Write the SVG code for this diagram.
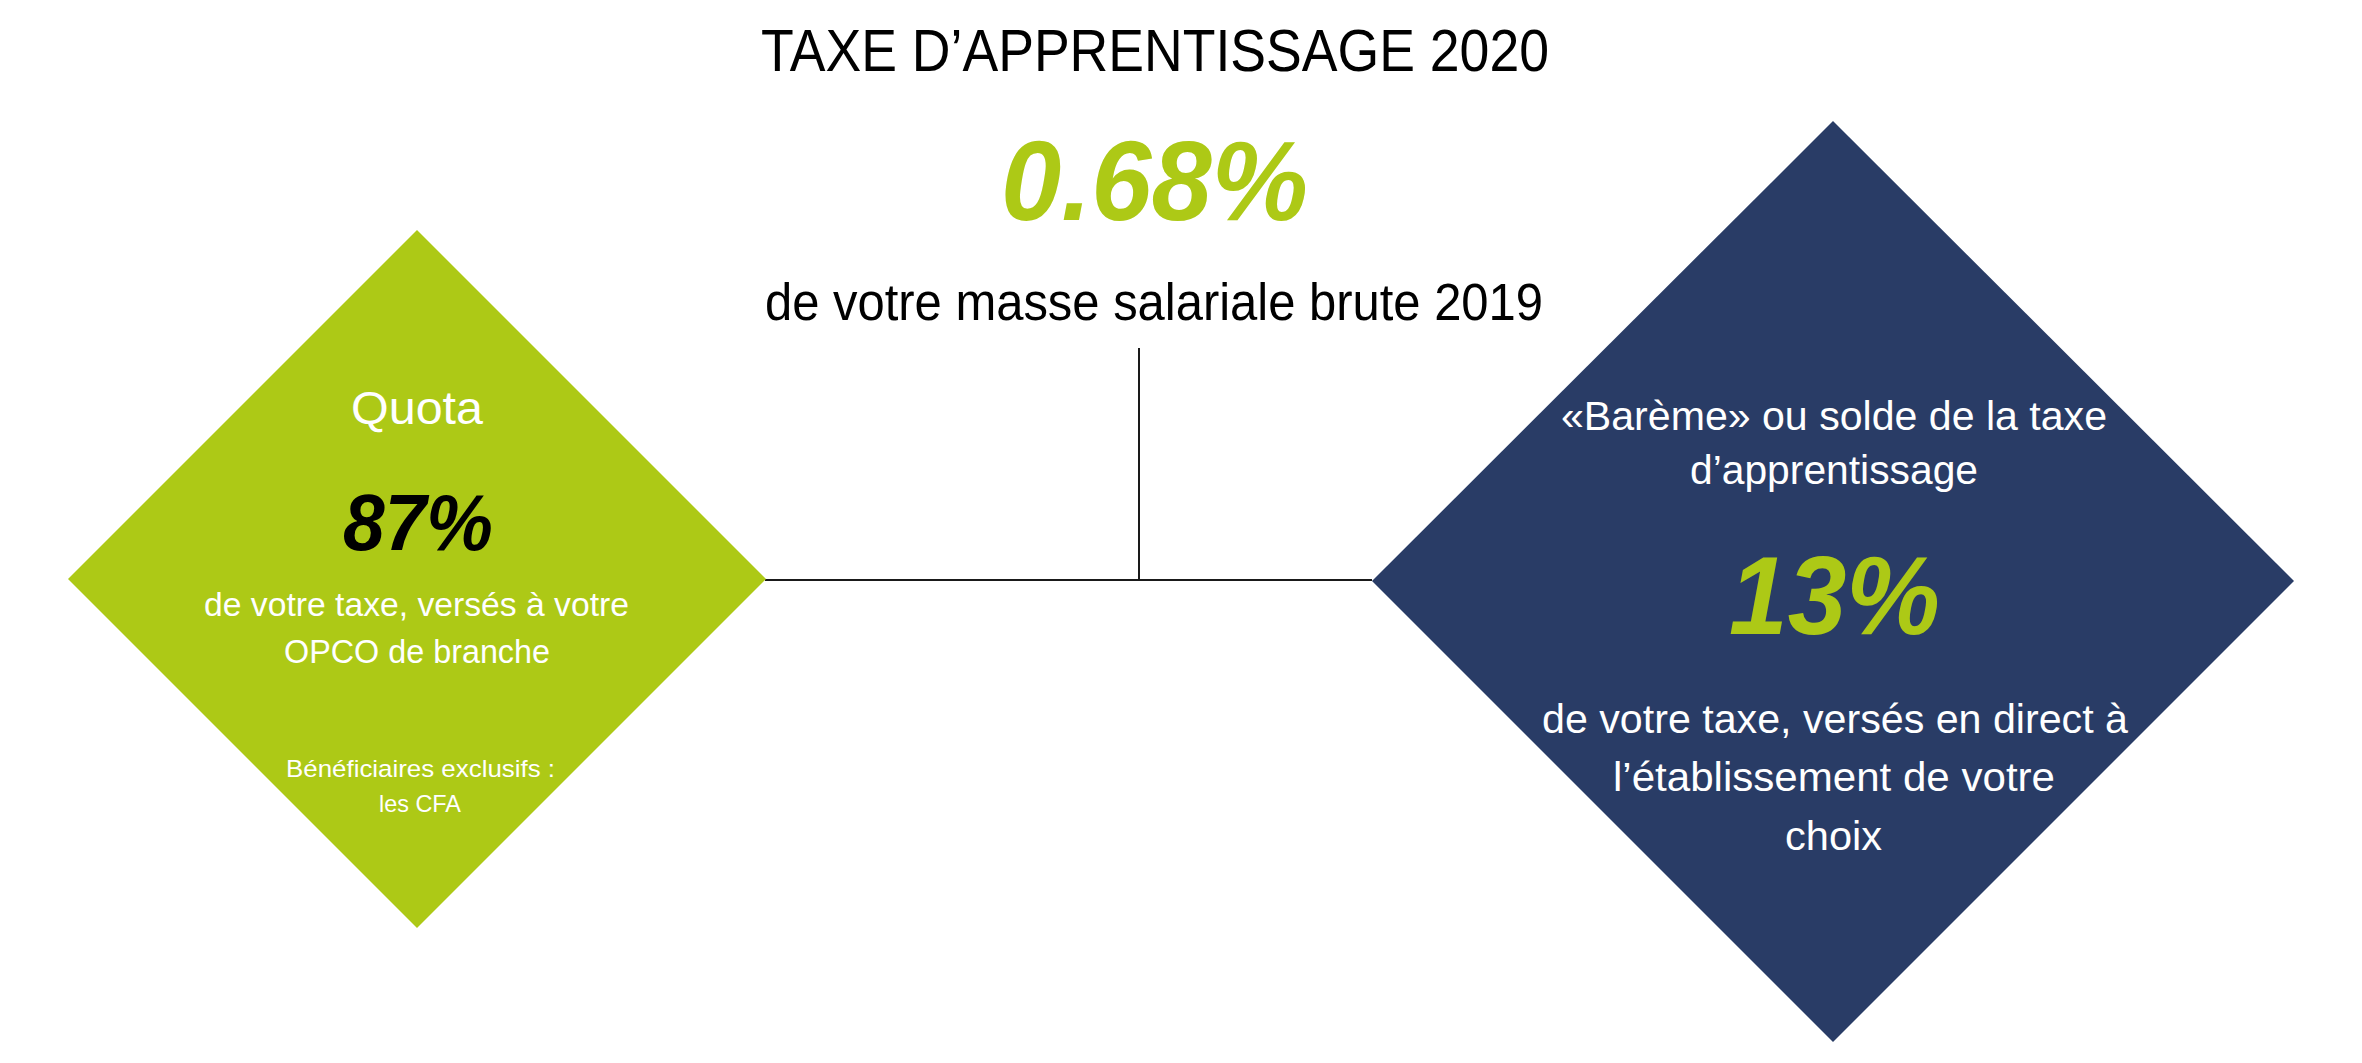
<svg xmlns="http://www.w3.org/2000/svg" width="2362" height="1063" viewBox="0 0 2362 1063">
<style>
text{font-family:"Liberation Sans",Arial,sans-serif;}
.blk{fill:#000000;}
.wht{fill:#ffffff;}
.grn{fill:#ADC916;}
.big{font-weight:bold;font-style:italic;}
.conn{stroke:#1a1a1a;stroke-width:2;fill:none;}
</style>
<rect x="0" y="0" width="2362" height="1063" fill="#ffffff"/>
<g id="connectors">
<line class="conn" x1="1139" y1="348" x2="1139" y2="580"/>
<line class="conn" x1="765" y1="580" x2="1372" y2="580"/>
</g>
<g id="header">
<text class="blk" x="761" y="71" font-size="59" textLength="788" lengthAdjust="spacingAndGlyphs">TAXE D’APPRENTISSAGE 2020</text>
<text class="grn big" x="1001" y="220" font-size="114" textLength="307" lengthAdjust="spacingAndGlyphs">0.68%</text>
<text class="blk" x="765" y="320" font-size="51" textLength="778" lengthAdjust="spacingAndGlyphs">de votre masse salariale brute 2019</text>
</g>
<g id="quota">
<polygon points="417,230 766,579 417,928 68,579" fill="#ADC916"/>
<text class="wht" x="351" y="424" font-size="46" textLength="132" lengthAdjust="spacingAndGlyphs">Quota</text>
<text class="blk big" x="343" y="550" font-size="79" textLength="150" lengthAdjust="spacingAndGlyphs">87%</text>
<text class="wht" x="204" y="616" font-size="34" textLength="425" lengthAdjust="spacingAndGlyphs">de votre taxe, versés à votre</text>
<text class="wht" x="284" y="663" font-size="34" textLength="266" lengthAdjust="spacingAndGlyphs">OPCO de branche</text>
<text class="wht" x="286" y="777" font-size="24.5" textLength="269" lengthAdjust="spacingAndGlyphs">Bénéficiaires exclusifs :</text>
<text class="wht" x="379" y="812" font-size="24.5" textLength="82" lengthAdjust="spacingAndGlyphs">les CFA</text>
</g>
<g id="bareme">
<polygon points="1833,121 2294,581 1833,1042 1372,581" fill="#293C66"/>
<text class="wht" x="1561" y="430" font-size="40" textLength="546" lengthAdjust="spacingAndGlyphs">«Barème» ou solde de la taxe</text>
<text class="wht" x="1690" y="484" font-size="40" textLength="288" lengthAdjust="spacingAndGlyphs">d’apprentissage</text>
<text class="grn big" x="1729" y="634" font-size="112" textLength="211" lengthAdjust="spacingAndGlyphs">13%</text>
<text class="wht" x="1542" y="733" font-size="40" textLength="586" lengthAdjust="spacingAndGlyphs">de votre taxe, versés en direct à</text>
<text class="wht" x="1613" y="791" font-size="40" textLength="442" lengthAdjust="spacingAndGlyphs">l’établissement de votre</text>
<text class="wht" x="1785" y="850" font-size="40" textLength="97" lengthAdjust="spacingAndGlyphs">choix</text>
</g>
</svg>
